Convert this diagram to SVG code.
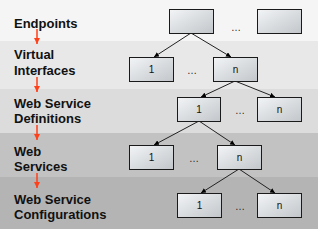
<svg xmlns="http://www.w3.org/2000/svg" width="318" height="229" viewBox="0 0 318 229">
<defs>
<linearGradient id="bg" x1="0" y1="0" x2="1" y2="1">
<stop offset="0" stop-color="#f2f4f6"/>
<stop offset="1" stop-color="#c2c6ca"/>
</linearGradient>
<marker id="ah" viewBox="0 0 10 10" refX="10" refY="5" markerWidth="5" markerHeight="5" orient="auto" markerUnits="userSpaceOnUse">
<path d="M0,0 L10,5 L0,10 z" fill="#000"/>
</marker>
<marker id="rh" viewBox="0 0 10 10" refX="10" refY="5" markerWidth="6" markerHeight="6" orient="auto" markerUnits="userSpaceOnUse">
<path d="M0,0 L10,5 L0,10 z" fill="#ff4018"/>
</marker>
</defs>
<style>
.box{fill:url(#bg);stroke:#1a1a1a;stroke-width:1}
.lbl{font-family:"Liberation Sans",Arial,sans-serif;font-weight:bold;font-size:13px;fill:#111}
.num{font-family:"Liberation Sans",Arial,sans-serif;font-size:10px;fill:#111;text-anchor:middle}
.dots{font-family:"Liberation Sans",Arial,sans-serif;font-size:10px;fill:#222;text-anchor:middle}
.con{stroke:#222;stroke-width:1;fill:none;marker-end:url(#ah)}
.red{stroke:#ff4018;stroke-width:1.5;fill:none;marker-end:url(#rh)}
</style>
<g id="bands">
<rect x="0" y="0" width="318" height="41" fill="#f5f5f5"/>
<rect x="0" y="41" width="318" height="48" fill="#e8e8e8"/>
<rect x="0" y="89" width="318" height="44" fill="#dcdcdc"/>
<rect x="0" y="133" width="318" height="44" fill="#c2c2c2"/>
<rect x="0" y="177" width="318" height="52" fill="#b4b4b4"/>
</g>
<g id="labels">
<text class="lbl" x="14" y="28">Endpoints</text>
<text class="lbl" x="14" y="59">Virtual</text>
<text class="lbl" x="14" y="75">Interfaces</text>
<text class="lbl" x="14" y="108">Web Service</text>
<text class="lbl" x="14" y="123">Definitions</text>
<text class="lbl" x="14" y="156">Web</text>
<text class="lbl" x="14" y="171">Services</text>
<text class="lbl" x="14" y="204">Web Service</text>
<text class="lbl" x="14" y="219">Configurations</text>
</g>
<g id="level-arrows">
<line class="red" x1="37" y1="29" x2="37" y2="44"/>
<line class="red" x1="37" y1="77" x2="37" y2="92"/>
<line class="red" x1="37" y1="125" x2="37" y2="140"/>
<line class="red" x1="37" y1="173" x2="37" y2="188"/>
</g>
<g id="connectors">
<line class="con" x1="191" y1="33" x2="154" y2="57"/>
<line class="con" x1="191" y1="33" x2="231" y2="57"/>
<line class="con" x1="235" y1="81" x2="201" y2="97"/>
<line class="con" x1="235" y1="81" x2="275" y2="97"/>
<line class="con" x1="199" y1="121" x2="154" y2="145"/>
<line class="con" x1="199" y1="121" x2="235" y2="145"/>
<line class="con" x1="239" y1="169" x2="201" y2="193"/>
<line class="con" x1="239" y1="169" x2="275" y2="193"/>
</g>
<g id="endpoint-1"><rect class="box" x="169.5" y="9.5" width="44" height="24"/></g>
<g id="endpoint-dots"><text class="dots" x="236" y="31">…</text></g>
<g id="endpoint-n"><rect class="box" x="257.5" y="9.5" width="44" height="24"/></g>
<g id="vi-1"><rect class="box" x="129.5" y="57.5" width="44" height="24"/><text class="num" x="151.5" y="73">1</text></g>
<g id="vi-dots"><text class="dots" x="192" y="74">…</text></g>
<g id="vi-n"><rect class="box" x="213.5" y="57.5" width="44" height="24"/><text class="num" x="235.5" y="73">n</text></g>
<g id="wsd-1"><rect class="box" x="177.5" y="97.5" width="43" height="24"/><text class="num" x="199" y="113">1</text></g>
<g id="wsd-dots"><text class="dots" x="240" y="114">…</text></g>
<g id="wsd-n"><rect class="box" x="257.5" y="97.5" width="44" height="24"/><text class="num" x="279.5" y="113">n</text></g>
<g id="ws-1"><rect class="box" x="129.5" y="145.5" width="44" height="24"/><text class="num" x="151.5" y="161">1</text></g>
<g id="ws-dots"><text class="dots" x="194" y="162">…</text></g>
<g id="ws-n"><rect class="box" x="217.5" y="145.5" width="44" height="24"/><text class="num" x="239.5" y="161">n</text></g>
<g id="wsc-1"><rect class="box" x="177.5" y="193.5" width="44" height="24"/><text class="num" x="199.5" y="209">1</text></g>
<g id="wsc-dots"><text class="dots" x="240" y="210">…</text></g>
<g id="wsc-n"><rect class="box" x="257.5" y="193.5" width="44" height="24"/><text class="num" x="279.5" y="209">n</text></g>
</svg>
